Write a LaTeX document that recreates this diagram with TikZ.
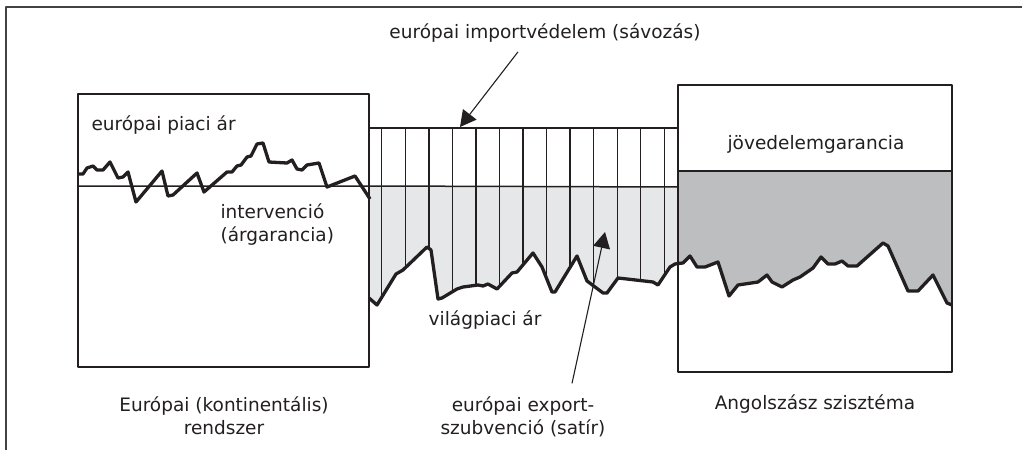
\documentclass[tikz,border=0pt]{standalone}
\usepackage{fontspec}
\setmainfont{DejaVu Sans}
\usepackage{xcolor}
\usetikzlibrary{arrows.meta}

\definecolor{ink}{HTML}{231F20}
\definecolor{lightfill}{HTML}{E6E7E8}
\definecolor{darkfill}{HTML}{BCBEC0}

% world price curve, split at the right box
\newcommand{\pricemid}{(369,298) -- (377,305) -- (396,274) -- (403,270) -- (427,247) -- (431,250) -- (438,299) -- (442,298) -- (457,289) -- (463,287) -- (478,285) -- (483,286) -- (488,284) -- (497,289) -- (512,273) -- (517,272) -- (533,253) -- (542,267) -- (552,292) -- (555,292) -- (577,256) -- (587,281) -- (603,293) -- (607,293) -- (618,278) -- (627,279) -- (653,282) -- (658,285) -- (670,267) -- (675,264) -- (678,263.5)}
\newcommand{\priceright}{(678,263.5) -- (683,263) -- (690,256) -- (697,267) -- (705,267) -- (718,262) -- (729,296) -- (738,285) -- (758,282) -- (767,275) -- (772,282) -- (782,287) -- (793,280) -- (800,277) -- (813,268) -- (821,257) -- (828,264) -- (835,264) -- (842,261) -- (848,266) -- (857,266) -- (883,243) -- (888,246) -- (908,291) -- (918,291) -- (933,275) -- (947,303) -- (952,305)}

\begin{document}
\begin{tikzpicture}[x=1pt, y=-1pt, line join=round,
    every node/.style={text=ink, align=center, font=\fontsize{18.5}{23}\selectfont},
    boxline/.style={ink, line width=2.2pt},
    thinline/.style={ink, line width=1.5pt},
    stripe/.style={ink, line width=1.4pt},
    curve/.style={ink, line width=3.3pt},
    arr/.style={ink, line width=1.1pt, -{Triangle[length=16pt, width=17pt]}}]
  \useasboundingbox (0,0) rectangle (1022,450);

  % outer frame (only top and left show)
  \draw[ink!85, line width=1.5pt] (6,450) -- (6,7) -- (1022,7);

  % shaded areas
  \fill[lightfill] (369,187) -- \pricemid -- (678,187) -- cycle;
  \fill[darkfill] (678,171) -- \priceright -- (952,171) -- cycle;

  % stripes of the import protection
  \begin{scope}
    \clip (369,128) -- \pricemid -- (678,128) -- cycle;
    \foreach \k in {0,...,12}
      \draw[stripe] (381.7+23.55*\k,128) -- (381.7+23.55*\k,320);
  \end{scope}

  % price levels
  \draw[thinline] (78,186) -- (369,186) -- (678,187);
  \draw[boxline] (369,128) -- (678,128);
  \draw[boxline] (678,171) -- (952,171);

  % the two boxes
  \draw[boxline] (78,94) rectangle (369,367);
  \draw[boxline] (678,85) rectangle (952,372);

  % european market price
  \draw[curve] (78,174) -- (83,174) -- (87,168) -- (93,166) -- (97,170) -- (103,170) -- (110,162) -- (118,178) -- (123,177) -- (128,172) -- (136,202) -- (162,171) -- (168,196) -- (173,195) -- (197,173) -- (204,192) -- (227,172) -- (232,172) -- (237,166) -- (241,165) -- (247,157) -- (251,156) -- (257,144) -- (263,143) -- (269,162) -- (287,163) -- (292,160) -- (297,169) -- (302,170) -- (307,165) -- (319,163) -- (327,187) -- (355,176) -- (370,199);

  % world price
  \draw[curve] \pricemid -- \priceright;

  % labels
  \node[anchor=west] (piaciar) at (88,125) {európai piaci ár};
  \node[anchor=west, align=left] (interv) at (217,225) {intervenció\\(árgarancia)};
  \node (vilag) at (485,320) {világpiaci ár};
  \node (export) at (523,417) {európai export-\\szubvenció (satír)};
  \node (import) at (545,33) {európai importvédelem (sávozás)};
  \node (jov) at (816,144) {jövedelemgarancia};
  \node (europai) at (224,416) {Európai (kontinentális)\\rendszer};
  \node (angol) at (815,404) {Angolszász szisztéma};

  % arrows
  \coordinate (imptip) at (460,127);
  \coordinate (exptip) at (605,232);
  \draw[arr] ([xshift=-27pt, yshift=-6pt]import.south) -- (imptip);
  \draw[arr] ([xshift=49pt, yshift=10pt]export.north) -- (exptip);
\end{tikzpicture}
\end{document}
